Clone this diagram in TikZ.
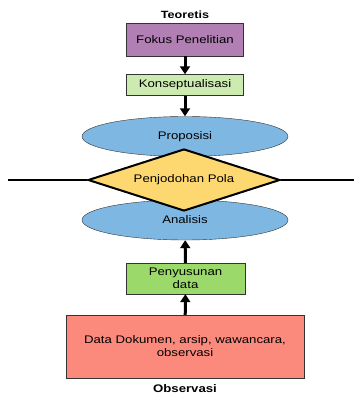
\documentclass[tikz,border=0pt]{standalone}
\usepackage{fontspec}
\setmainfont{Liberation Sans}[FakeStretch=1.2]
\usepackage{xcolor}
\usetikzlibrary{shapes.geometric,arrows.meta}

\definecolor{fokus}{HTML}{B27FB5}
\definecolor{konsep}{HTML}{CDEBB0}
\definecolor{elips}{HTML}{7FB7E3}
\definecolor{pola}{HTML}{FDD870}
\definecolor{susun}{HTML}{9CD96B}
\definecolor{sumber}{HTML}{FB8A7D}

\begin{document}
\begin{tikzpicture}[x=1pt,y=-1pt,font=\fontsize{11}{13}\selectfont]
    \useasboundingbox (0,0) rectangle (354,395);
    \tikzstyle{kotak}=[draw=black!80, rectangle, inner sep=2pt]
    \tikzstyle{elipsbox}=[draw=black!80, ellipse, fill=elips, minimum width=206pt, minimum height=40pt]
    \tikzstyle{panah}=[-{Triangle[width=10pt,length=8pt]}, line width=3pt]
    \node[font=\fontsize{10.5}{12}\selectfont\bfseries] (teori) at (185,15) {Teoretis};
    \node[kotak, fill=fokus, minimum width=117pt, minimum height=33pt] (fokus) at (185,39.5) {Fokus Penelitian};
    \node[kotak, fill=konsep, minimum width=117pt, minimum height=21pt] (konsep) at (185,85) {Konseptualisasi};
    \node[elipsbox] (proposisi) at (185,136.5) {Proposisi};
    \node[elipsbox] (analisis) at (185,220) {Analisis};
    \node[draw, diamond, aspect=3, line width=2pt, fill=pola, inner sep=0pt, minimum width=192pt, minimum height=62pt] (pola) at (184,180) {Penjodohan Pola};
    \coordinate (kiri) at (8,180);
    \coordinate (kanan) at (354,180);
    \draw[line width=2pt] (kiri) -- (pola.west);
    \draw[line width=2pt] (pola.east) -- (kanan);
    \node[kotak, fill=susun, minimum width=119pt, minimum height=31pt, align=center] (susun) at (185.5,278.5) {Penyusunan\\data};
    \node[kotak, fill=sumber, minimum width=238pt, minimum height=63pt, align=center] (data) at (185,346.5) {Data Dokumen, arsip, wawancara,\\observasi};
    \node[font=\fontsize{11}{13}\selectfont\bfseries] (obs) at (185,389) {Observasi};
    \draw[panah] (fokus) -- (konsep);
    \draw[panah] (konsep) -- (proposisi);
    \draw[panah] (susun) -- (analisis);
    \draw[panah] (data) -- (susun);
\end{tikzpicture}
\end{document}
